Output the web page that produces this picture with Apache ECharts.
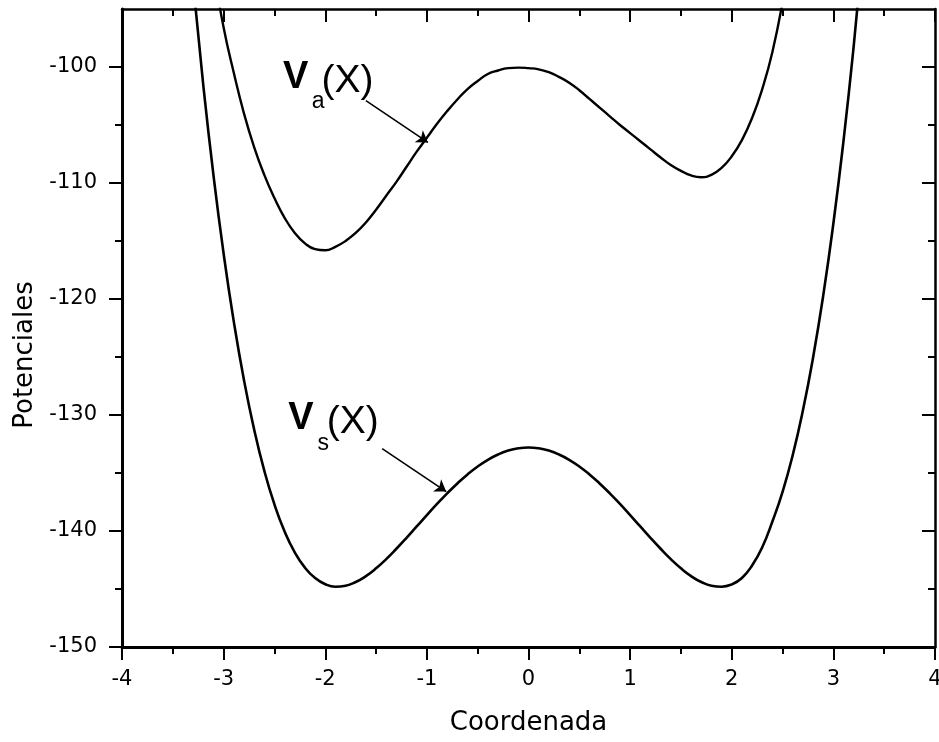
<!DOCTYPE html>
<html>
<head>
<meta charset="utf-8">
<script src="https://cdn.jsdelivr.net/npm/echarts@6/dist/echarts.min.js"></script>
<style>
  html, body { margin: 0; padding: 0; background: #fff; }
  #chart { width: 939px; height: 742px; }
</style>
</head>
<body>
<div id="chart"></div>
<script>
// Symmetric double-well potential V_s(x)
const xVs = [-3.3, -3.2, -3.1, -3.0, -2.9, -2.8, -2.7, -2.6, -2.5, -2.4, -2.3, -2.2, -2.1, -2.0, -1.9, -1.8, -1.7, -1.6, -1.5, -1.4, -1.3, -1.2, -1.1, -1.0, -0.9, -0.8, -0.7, -0.6, -0.5, -0.4, -0.3, -0.2, -0.1, 0.0,
             0.1, 0.2, 0.3, 0.4, 0.5, 0.6, 0.7, 0.8, 0.9, 1.0, 1.1, 1.2, 1.3, 1.4, 1.5, 1.6, 1.7, 1.8, 1.9, 2.0, 2.1, 2.2, 2.3, 2.4, 2.5, 2.6, 2.7, 2.8, 2.9, 3.0, 3.1, 3.2, 3.3];
const vsValues = [-92.80, -101.58, -109.32, -116.09, -121.95, -126.98, -131.24, -134.80, -137.71, -140.04, -141.84, -143.16, -144.06, -144.59, -144.80, -144.72, -144.40, -143.89, -143.22, -142.42, -141.53, -140.59, -139.61, -138.63, -137.67, -136.75, -135.90, -135.12, -134.44, -133.86, -133.40, -133.07, -132.87, -132.80,
                  -132.87, -133.07, -133.40, -133.86, -134.44, -135.12, -135.90, -136.75, -137.67, -138.63, -139.61, -140.59, -141.53, -142.42, -143.22, -143.89, -144.40, -144.72, -144.80, -144.60, -144.05, -142.98, -141.40, -139.18, -136.62, -133.46, -129.62, -125.06, -119.71, -113.49, -106.35, -98.20, -88.97];

// Asymmetric double-well potential V_a(x)
const xVa = [-3.1, -3.0, -2.9, -2.8, -2.7, -2.6, -2.5, -2.4, -2.3, -2.2, -2.1, -2.0, -1.9, -1.8, -1.7, -1.6, -1.5, -1.4, -1.3, -1.2, -1.1, -1.0, -0.9, -0.8, -0.7, -0.6, -0.5, -0.4, -0.3, -0.2, -0.1, 0.0,
             0.1, 0.2, 0.3, 0.4, 0.5, 0.6, 0.7, 0.8, 0.9, 1.0, 1.1, 1.2, 1.3, 1.4, 1.5, 1.6, 1.7, 1.8, 1.9, 2.0, 2.1, 2.2, 2.3, 2.4, 2.5, 2.6];
const vaValues = [-91.6, -96.6, -100.5, -104.0, -106.9, -109.3, -111.3, -113.0, -114.3, -115.2, -115.7, -115.8, -115.5, -115.0, -114.3, -113.4, -112.3, -111.1, -109.9, -108.6, -107.3, -106.1, -104.9, -103.8, -102.8, -101.9, -101.2, -100.6, -100.3, -100.1, -100.05, -100.1,
                  -100.2, -100.45, -100.85, -101.35, -102.0, -102.75, -103.5, -104.25, -105.0, -105.7, -106.4, -107.1, -107.8, -108.45, -108.95, -109.35, -109.5, -109.3, -108.7, -107.7, -106.3, -104.4, -101.9, -98.7, -94.4, -89.0];

// Axis ticks
const xTicks = [-4, -3, -2, -1, 0, 1, 2, 3, 4];
const yMajorTicks = [-150, -140, -130, -120, -110, -100];
const yMinorTicks = [-145, -135, -125, -115, -105];

const zip = (xs, ys) => xs.map((x, i) => [x, ys[i]]);

const BLACK = '#000';
const tickFont = 'DejaVu Sans';
const labelFont = '"Liberation Sans Narrow", "Liberation Sans", Arial, sans-serif';

function yAxisDef(position, ticks, len, inside, withLabels, lineWidth) {
  return {
    type: 'value', min: -150, max: -95, position: position,
    axisLine: { show: lineWidth > 0, onZero: false, lineStyle: { color: BLACK, width: lineWidth } },
    axisTick: { show: true, inside: inside, length: len, customValues: ticks, lineStyle: { color: BLACK, width: 2 } },
    axisLabel: withLabels ? { show: true, customValues: ticks, margin: 25, color: BLACK, fontFamily: tickFont, fontSize: 21 } : { show: false },
    splitLine: { show: false }
  };
}

function xAxisDef(position, inside, withLabels, lineWidth) {
  return {
    type: 'value', min: -4, max: 4, interval: 1, position: position,
    axisLine: { show: true, onZero: false, lineStyle: { color: BLACK, width: lineWidth } },
    axisTick: { show: true, inside: inside, length: 13, lineStyle: { color: BLACK, width: 2 } },
    minorTick: { show: true, splitNumber: 2, length: 7, lineStyle: { color: BLACK, width: 2 } },
    axisLabel: withLabels ? { show: true, margin: 22, color: BLACK, fontFamily: tickFont, fontSize: 21,
                              customValues: xTicks } : { show: false },
    splitLine: { show: false }
  };
}

// Annotation text pieces: bold V, subscript, and "(X)"
function annotation(vAt, subAt, subText, parAt) {
  return [
    { coord: vAt, label: { formatter: 'V', fontSize: 38, fontWeight: 'bold', fontFamily: labelFont, color: BLACK } },
    { coord: subAt, label: { formatter: subText, fontSize: 23, fontFamily: labelFont, color: BLACK } },
    { coord: parAt, label: { formatter: '(X)', fontSize: 39, fontFamily: labelFont, color: BLACK } }
  ];
}

const arrowStyle = {
  symbol: ['none', 'arrow'], symbolSize: 11, silent: true, animation: false,
  lineStyle: { color: BLACK, width: 1.6, type: 'solid' }, label: { show: false }
};

const chart = echarts.init(document.getElementById('chart'), null, { renderer: 'canvas' });
chart.setOption({
  backgroundColor: '#fff',
  animation: false,
  grid: { left: 122, right: 4, top: 9, bottom: 95, containLabel: false, outerBoundsMode: 'none' },
  xAxis: [
    Object.assign(xAxisDef('bottom', false, true, 3), {
      name: 'Coordenada', nameLocation: 'middle', nameGap: 63,
      nameTextStyle: { color: BLACK, fontFamily: tickFont, fontSize: 26 }
    }),
    xAxisDef('top', true, false, 2.5)
  ],
  yAxis: [
    Object.assign(yAxisDef('left', yMajorTicks, 13, false, true, 3), {
      name: 'Potenciales', nameLocation: 'middle', nameGap: 84,
      nameTextStyle: { color: BLACK, fontFamily: tickFont, fontSize: 26, padding: [0, 54, 0, 0] }
    }),
    yAxisDef('left', yMinorTicks, 7, false, false, 0),
    yAxisDef('right', yMajorTicks, 13, true, false, 2.5),
    yAxisDef('right', yMinorTicks, 7, true, false, 0)
  ],
  series: [
    {
      name: 'Vs', type: 'line', data: zip(xVs, vsValues), smooth: true, showSymbol: false, clip: true,
      lineStyle: { color: BLACK, width: 2.6 },
      markLine: Object.assign({ data: [[{ coord: [-1.44, -132.9] }, { coord: [-0.81, -136.6] }]] }, arrowStyle),
      markPoint: {
        symbol: 'circle', symbolSize: 0, silent: true, animation: false,
        label: { show: true, position: 'inside' },
        data: annotation([-2.24, -130.3], [-2.02, -132.5], 's', [-1.73, -130.6])
      }
    },
    {
      name: 'Va', type: 'line', data: zip(xVa, vaValues), smooth: true, showSymbol: false, clip: true,
      lineStyle: { color: BLACK, width: 2.4 },
      markLine: Object.assign({ data: [[{ coord: [-1.60, -102.9] }, { coord: [-0.99, -106.5] }]] }, arrowStyle),
      markPoint: {
        symbol: 'circle', symbolSize: 0, silent: true, animation: false,
        label: { show: true, position: 'inside' },
        data: annotation([-2.29, -100.9], [-2.07, -103.0], 'a', [-1.78, -101.2])
      }
    }
  ]
});
</script>
</body>
</html>
